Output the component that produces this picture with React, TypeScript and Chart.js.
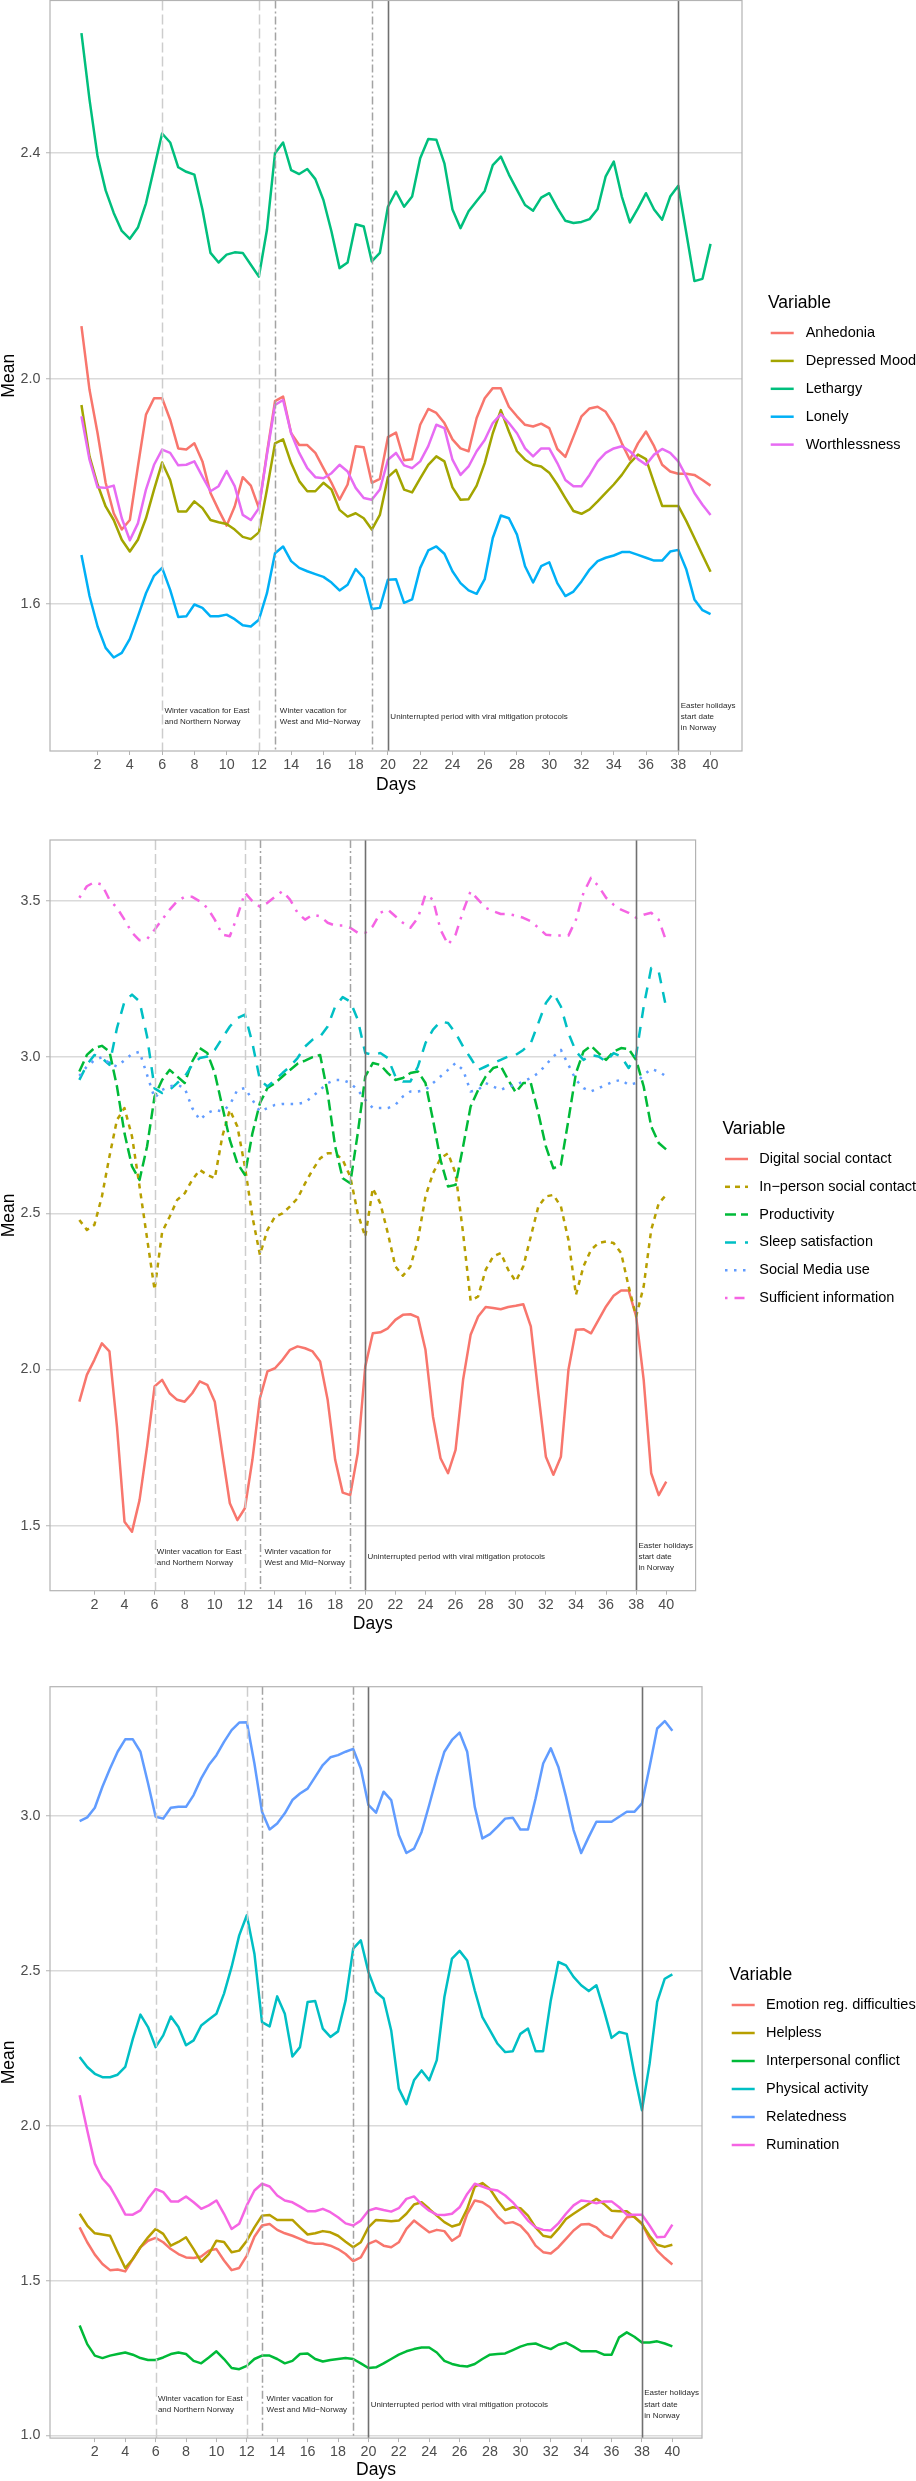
import React, { useEffect, useRef } from "react";
import { Chart, registerables } from "chart.js";

Chart.register(...registerables);

const FONT = '"Liberation Sans", Arial, Helvetica, sans-serif';

// ---------- shared x values (half-day steps) ----------
const days = [
  1, 1.5, 2, 2.5, 3, 3.5, 4, 4.5, 5, 5.5, 6, 6.5, 7, 7.5, 8, 8.5, 9, 9.5, 10, 10.5,
  11, 11.5, 12, 12.5, 13, 13.5, 14, 14.5, 15, 15.5, 16, 16.5, 17, 17.5, 18, 18.5, 19, 19.5, 20, 20.5,
  21, 21.5, 22, 22.5, 23, 23.5, 24, 24.5, 25, 25.5, 26, 26.5, 27, 27.5, 28, 28.5, 29, 29.5, 30, 30.5,
  31, 31.5, 32, 32.5, 33, 33.5, 34, 34.5, 35, 35.5, 36, 36.5, 37, 37.5, 38, 38.5, 39, 39.5, 40,
];
const xTickDays = [2, 4, 6, 8, 10, 12, 14, 16, 18, 20, 22, 24, 26, 28, 30, 32, 34, 36, 38, 40];

// ---------- panel 1 ----------
const names1 = ["Anhedonia", "Depressed Mood", "Lethargy", "Lonely", "Worthlessness"];
const yTicks1 = [1.6, 2.0, 2.4];
const anhedonia = [
  2.093, 1.98, 1.903, 1.815, 1.761, 1.732, 1.749, 1.844, 1.936, 1.965,
  1.965, 1.927, 1.876, 1.874, 1.885, 1.853, 1.797, 1.767, 1.739, 1.773,
  1.825, 1.81, 1.77, 1.868, 1.96, 1.968, 1.903, 1.882, 1.882, 1.868,
  1.841, 1.815, 1.785, 1.812, 1.88, 1.878, 1.815, 1.822, 1.896, 1.904,
  1.855, 1.857, 1.918, 1.946, 1.939, 1.921, 1.892, 1.876, 1.871,
  1.93, 1.965, 1.983, 1.983, 1.95, 1.933, 1.918, 1.915, 1.92, 1.912,
  1.875, 1.861, 1.897, 1.933, 1.947, 1.95, 1.941, 1.918, 1.885, 1.856,
  1.885, 1.906, 1.88, 1.847, 1.835, 1.831, 1.831, 1.829, 1.82, 1.81,
];
const depressedMood = [
  1.953, 1.862, 1.812, 1.773, 1.749, 1.714, 1.693, 1.714, 1.752, 1.803,
  1.851, 1.82, 1.764, 1.764, 1.782, 1.77, 1.749, 1.745, 1.742, 1.732,
  1.719, 1.715, 1.727, 1.803, 1.885, 1.892, 1.85, 1.818, 1.8, 1.8,
  1.815, 1.803, 1.767, 1.755, 1.761, 1.752, 1.732, 1.758, 1.825, 1.838,
  1.803, 1.798, 1.823, 1.847, 1.862, 1.853, 1.807, 1.785, 1.786,
  1.81, 1.85, 1.903, 1.944, 1.906, 1.871, 1.856, 1.847, 1.844, 1.833,
  1.812, 1.788, 1.765, 1.76, 1.768, 1.782, 1.797, 1.812, 1.829, 1.85,
  1.865, 1.857, 1.815, 1.774, 1.774, 1.774, 1.747, 1.717, 1.687, 1.657,
];
const lethargy = [
  2.613, 2.495, 2.394, 2.334, 2.294, 2.262, 2.248, 2.268, 2.311, 2.373,
  2.435, 2.419, 2.375, 2.367, 2.362, 2.3, 2.223, 2.206, 2.22, 2.224,
  2.223, 2.202, 2.181, 2.264, 2.4, 2.419, 2.37, 2.363, 2.372, 2.354,
  2.317, 2.261, 2.196, 2.206, 2.274, 2.27, 2.208, 2.223, 2.305, 2.332,
  2.305, 2.323, 2.391, 2.425, 2.424, 2.382, 2.3, 2.267, 2.297,
  2.315, 2.333, 2.379, 2.394, 2.362, 2.335, 2.308, 2.298, 2.321, 2.329,
  2.303, 2.28, 2.276, 2.278, 2.283, 2.301, 2.359, 2.385, 2.323, 2.277,
  2.302, 2.329, 2.3, 2.282, 2.323, 2.342, 2.258, 2.173, 2.177, 2.239,
];
const lonely = [
  1.687, 1.614, 1.56, 1.522, 1.505, 1.513, 1.538, 1.578, 1.619, 1.65,
  1.664, 1.625, 1.577, 1.578, 1.599, 1.593, 1.578, 1.578, 1.581, 1.573,
  1.562, 1.56, 1.572, 1.619, 1.69, 1.702, 1.676, 1.664, 1.658, 1.653,
  1.648, 1.638, 1.624, 1.634, 1.662, 1.646, 1.591, 1.593, 1.643, 1.644,
  1.602, 1.608, 1.664, 1.695, 1.702, 1.689, 1.658, 1.637, 1.624,
  1.618, 1.644, 1.717, 1.757, 1.752, 1.723, 1.667, 1.638, 1.667, 1.674,
  1.637, 1.614, 1.622, 1.64, 1.661, 1.676, 1.682, 1.686, 1.692, 1.692,
  1.687, 1.682, 1.677, 1.677, 1.693, 1.696, 1.661, 1.608, 1.589, 1.582,
];
const worthlessness = [
  1.933, 1.856, 1.807, 1.806, 1.81, 1.752, 1.713, 1.743, 1.803, 1.847,
  1.874, 1.868, 1.846, 1.847, 1.853, 1.826, 1.8, 1.809, 1.836, 1.809,
  1.758, 1.749, 1.77, 1.865, 1.953, 1.962, 1.903, 1.868, 1.841, 1.825,
  1.823, 1.832, 1.847, 1.835, 1.806, 1.788, 1.785, 1.803, 1.856, 1.868,
  1.846, 1.841, 1.853, 1.88, 1.918, 1.912, 1.856, 1.829, 1.844,
  1.871, 1.891, 1.921, 1.937, 1.921, 1.903, 1.876, 1.862, 1.876, 1.876,
  1.85, 1.82, 1.809, 1.809, 1.829, 1.853, 1.868, 1.876, 1.88, 1.871,
  1.857, 1.847, 1.865, 1.875, 1.868, 1.853, 1.826, 1.797, 1.776, 1.758,
];

// ---------- panel 2 ----------
const names2 = [
  "Digital social contact",
  "In\u2212person social contact",
  "Productivity",
  "Sleep satisfaction",
  "Social Media use",
  "Sufficient information",
];
const yTicks2 = [1.5, 2.0, 2.5, 3.0, 3.5];
const digitalContact = [
  1.897, 1.983, 2.031, 2.084, 2.058, 1.817, 1.513, 1.481, 1.582, 1.753,
  1.946, 1.967, 1.924, 1.903, 1.897, 1.924, 1.962, 1.951, 1.897, 1.732,
  1.572, 1.518, 1.556, 1.711, 1.908, 1.994, 2.004, 2.031, 2.063, 2.074,
  2.068, 2.058, 2.026, 1.903, 1.711, 1.606, 1.598, 1.732, 2.01, 2.116,
  2.119, 2.132, 2.159, 2.175, 2.177, 2.167, 2.063, 1.849, 1.716, 1.668,
  1.743, 1.967, 2.111, 2.17, 2.2, 2.197, 2.193, 2.2, 2.204, 2.209,
  2.138, 1.924, 1.721, 1.663, 1.721, 1.999, 2.127, 2.129, 2.116, 2.159,
  2.202, 2.236, 2.253, 2.253, 2.17, 1.967, 1.668, 1.598, 1.641,
];
const inPersonContact = [
  2.479, 2.447, 2.463, 2.554, 2.682, 2.799, 2.837, 2.746, 2.586, 2.42,
  2.255, 2.44, 2.489, 2.543, 2.564, 2.607, 2.639, 2.623, 2.612, 2.746,
  2.831, 2.778, 2.65, 2.489, 2.367, 2.447, 2.489, 2.5, 2.522, 2.548,
  2.596, 2.639, 2.676, 2.692, 2.692, 2.671, 2.618, 2.5, 2.425, 2.58,
  2.532, 2.436, 2.33, 2.3, 2.33, 2.415, 2.554, 2.628, 2.676, 2.692,
  2.628, 2.436, 2.22, 2.234, 2.319, 2.362, 2.373, 2.319, 2.282, 2.33,
  2.426, 2.522, 2.554, 2.559, 2.522, 2.415, 2.239, 2.33, 2.383, 2.405,
  2.41, 2.405, 2.373, 2.266, 2.17, 2.266, 2.447, 2.532, 2.559,
];
const productivity = [
  2.954, 3.007, 3.029, 3.036, 3.018, 2.906, 2.756, 2.65, 2.607, 2.714,
  2.874, 2.927, 2.959, 2.938, 2.917, 2.986, 3.029, 3.013, 2.949, 2.842,
  2.735, 2.66, 2.623, 2.756, 2.853, 2.901, 2.917, 2.938, 2.959, 2.979,
  2.989, 3.0, 3.007, 2.885, 2.714, 2.612, 2.596, 2.756, 2.938, 2.981,
  2.975, 2.949, 2.927, 2.933, 2.949, 2.954, 2.917, 2.799, 2.671, 2.586,
  2.591, 2.714, 2.842, 2.895, 2.938, 2.965, 2.972, 2.927, 2.887, 2.917,
  2.917, 2.821, 2.714, 2.644, 2.655, 2.799, 2.949, 3.018, 3.036, 3.013,
  2.991, 3.018, 3.029, 3.026, 2.991, 2.906, 2.778, 2.725, 2.704,
];
const sleepSatisfaction = [
  2.927, 2.975, 3.007, 2.997, 2.975, 3.093, 3.178, 3.2, 3.178, 3.066,
  2.9, 2.885, 2.895, 2.917, 2.938, 2.975, 2.997, 3.002, 3.023, 3.061,
  3.098, 3.125, 3.136, 3.045, 2.927, 2.906, 2.927, 2.949, 2.97, 2.997,
  3.034, 3.056, 3.066, 3.098, 3.162, 3.192, 3.178, 3.12, 3.013, 3.007,
  3.013, 2.997, 2.938, 2.922, 2.922, 2.97, 3.045, 3.088, 3.114, 3.109,
  3.077, 3.034, 2.997, 2.959, 2.97, 2.981, 2.991, 3.002, 3.007, 3.023,
  3.045, 3.109, 3.173, 3.205, 3.162, 3.077, 3.018, 2.991, 3.007, 3.002,
  2.986, 3.013, 3.002, 2.965, 3.007, 3.162, 3.285, 3.274, 3.157,
];
const socialMediaUse = [
  2.94, 2.97, 2.99, 3.0, 2.98, 2.97, 2.99, 3.01, 3.017, 2.943,
  2.869, 2.895, 2.906, 2.911, 2.901, 2.837, 2.799, 2.821, 2.831, 2.826,
  2.847, 2.895, 2.901, 2.863, 2.826, 2.837, 2.847, 2.85, 2.85, 2.85,
  2.855, 2.874, 2.895, 2.917, 2.927, 2.927, 2.917, 2.895, 2.863, 2.837,
  2.837, 2.837, 2.847, 2.874, 2.89, 2.89, 2.895, 2.917, 2.938, 2.959,
  2.981, 2.959, 2.89, 2.895, 2.917, 2.906, 2.895, 2.906, 2.911, 2.922,
  2.933, 2.949, 2.975, 3.002, 3.023, 2.975, 2.927, 2.901, 2.89, 2.901,
  2.911, 2.922, 2.927, 2.911, 2.917, 2.943, 2.962, 2.954, 2.938,
];
const sufficientInfo = [
  3.51, 3.547, 3.56, 3.552, 3.504, 3.478, 3.44, 3.398, 3.374, 3.378,
  3.408, 3.44, 3.472, 3.499, 3.513, 3.513, 3.499, 3.478, 3.44, 3.392,
  3.387, 3.451, 3.526, 3.499, 3.481, 3.494, 3.513, 3.531, 3.504, 3.462,
  3.44, 3.456, 3.451, 3.43, 3.421, 3.421, 3.414, 3.398, 3.398, 3.419,
  3.462, 3.472, 3.451, 3.43, 3.414, 3.446, 3.52, 3.504, 3.408, 3.36,
  3.392, 3.467, 3.531, 3.504, 3.478, 3.467, 3.458, 3.458, 3.453, 3.446,
  3.435, 3.414, 3.392, 3.389, 3.389, 3.389, 3.44, 3.526, 3.574, 3.547,
  3.51, 3.488, 3.472, 3.462, 3.446, 3.456, 3.462, 3.44, 3.371,
];

// ---------- panel 3 ----------
const names3 = [
  "Emotion reg. difficulties",
  "Helpless",
  "Interpersonal conflict",
  "Physical activity",
  "Relatedness",
  "Rumination",
];
const yTicks3 = [1.0, 1.5, 2.0, 2.5, 3.0];
const emotionReg = [
  1.672, 1.624, 1.584, 1.554, 1.534, 1.536, 1.53, 1.57, 1.608, 1.629,
  1.638, 1.624, 1.602, 1.586, 1.575, 1.573, 1.578, 1.597, 1.602, 1.565,
  1.534, 1.541, 1.581, 1.642, 1.678, 1.683, 1.664, 1.653, 1.645, 1.635,
  1.624, 1.619, 1.619, 1.613, 1.602, 1.586, 1.563, 1.575, 1.619, 1.629,
  1.613, 1.608, 1.624, 1.667, 1.694, 1.675, 1.656, 1.664, 1.66, 1.629,
  1.645, 1.716, 1.759, 1.753, 1.737, 1.707, 1.685, 1.689, 1.678, 1.651,
  1.613, 1.592, 1.588, 1.608, 1.635, 1.662, 1.681, 1.683, 1.672, 1.649,
  1.638, 1.672, 1.705, 1.707, 1.685, 1.635, 1.597, 1.573, 1.552,
];
const helpless = [
  1.716, 1.678, 1.653, 1.649, 1.645, 1.592, 1.541, 1.57, 1.608, 1.64,
  1.667, 1.651, 1.613, 1.625, 1.64, 1.602, 1.561, 1.586, 1.629, 1.625,
  1.592, 1.597, 1.629, 1.672, 1.71, 1.712, 1.696, 1.696, 1.696, 1.672,
  1.649, 1.653, 1.66, 1.656, 1.645, 1.626, 1.608, 1.624, 1.672, 1.696,
  1.694, 1.692, 1.694, 1.716, 1.746, 1.753, 1.732, 1.71, 1.689, 1.675,
  1.682, 1.732, 1.804, 1.815, 1.796, 1.759, 1.728, 1.737, 1.734, 1.71,
  1.672, 1.645, 1.64, 1.667, 1.699, 1.716, 1.732, 1.748, 1.764, 1.748,
  1.726, 1.724, 1.724, 1.705, 1.683, 1.645, 1.616, 1.609, 1.616,
];
const interpersonalConflict = [
  1.355, 1.295, 1.258, 1.25, 1.258, 1.263, 1.268, 1.261, 1.25, 1.244,
  1.244, 1.252, 1.263, 1.268, 1.263, 1.241, 1.233, 1.252, 1.272, 1.247,
  1.218, 1.214, 1.225, 1.247, 1.258, 1.258, 1.247, 1.233, 1.241, 1.263,
  1.265, 1.247, 1.239, 1.244, 1.247, 1.25, 1.247, 1.233, 1.218, 1.22,
  1.233, 1.247, 1.261, 1.272, 1.279, 1.284, 1.284, 1.268, 1.241, 1.231,
  1.225, 1.223, 1.231, 1.247, 1.261, 1.263, 1.265, 1.276, 1.287, 1.295,
  1.297, 1.287, 1.279, 1.293, 1.3, 1.287, 1.272, 1.272, 1.272, 1.261,
  1.261, 1.317, 1.333, 1.319, 1.3, 1.3, 1.304, 1.297, 1.288,
];
const physicalActivity = [
  2.222, 2.19, 2.168, 2.157, 2.157, 2.165, 2.19, 2.281, 2.359, 2.319,
  2.254, 2.292, 2.353, 2.319, 2.26, 2.276, 2.324, 2.343, 2.362, 2.427,
  2.513, 2.615, 2.68, 2.556, 2.335, 2.321, 2.418, 2.362, 2.224, 2.254,
  2.4, 2.403, 2.314, 2.287, 2.305, 2.405, 2.572, 2.599, 2.497, 2.432,
  2.411, 2.308, 2.12, 2.07, 2.147, 2.179, 2.147, 2.212, 2.416, 2.54,
  2.565, 2.534, 2.437, 2.351, 2.308, 2.265, 2.238, 2.241, 2.297, 2.314,
  2.241, 2.241, 2.405, 2.529, 2.518, 2.481, 2.454, 2.435, 2.454, 2.373,
  2.284, 2.303, 2.297, 2.168, 2.05, 2.2, 2.4, 2.475, 2.489,
];
const relatedness = [
  2.984, 2.996, 3.027, 3.095, 3.154, 3.208, 3.248, 3.248, 3.208, 3.106,
  2.998, 2.992, 3.027, 3.03, 3.03, 3.068, 3.122, 3.165, 3.197, 3.24,
  3.278, 3.302, 3.303, 3.17, 3.014, 2.957, 2.976, 3.009, 3.052, 3.073,
  3.089, 3.127, 3.165, 3.19, 3.197, 3.208, 3.217, 3.154, 3.036, 3.011,
  3.079, 3.052, 2.939, 2.881, 2.895, 2.949, 3.036, 3.127, 3.208, 3.246,
  3.27, 3.208, 3.03, 2.928, 2.942, 2.966, 2.992, 2.995, 2.957, 2.957,
  3.057, 3.17, 3.219, 3.159, 3.063, 2.955, 2.881, 2.933, 2.982, 2.982,
  2.982, 2.998, 3.014, 3.014, 3.041, 3.159, 3.283, 3.307, 3.276,
];
const rumination = [
  2.099, 1.986, 1.878, 1.83, 1.803, 1.76, 1.714, 1.713, 1.727, 1.765,
  1.796, 1.786, 1.756, 1.756, 1.772, 1.753, 1.732, 1.743, 1.759, 1.716,
  1.667, 1.684, 1.743, 1.791, 1.813, 1.804, 1.775, 1.759, 1.753, 1.739,
  1.724, 1.724, 1.732, 1.721, 1.705, 1.685, 1.678, 1.694, 1.726, 1.734,
  1.728, 1.723, 1.734, 1.764, 1.772, 1.746, 1.726, 1.713, 1.712, 1.716,
  1.737, 1.78, 1.813, 1.804, 1.795, 1.791, 1.775, 1.753, 1.724, 1.694,
  1.672, 1.664, 1.662, 1.685, 1.716, 1.743, 1.759, 1.756, 1.75, 1.756,
  1.756, 1.737, 1.713, 1.713, 1.713, 1.678, 1.64, 1.642, 1.681,
];

// ---------- event markers and notes ----------
const eventDays = [6, 12, 13, 19, 20, 38];
const noteDays = [6.15, 13.3, 20.15, 38.15];
const noteTexts = [
  ["Winter vacation for East", "and Northern Norway"],
  ["Winter vacation for", "West and Mid\u2212Norway"],
  ["Uninterrupted period with viral mitigation protocols"],
  ["Easter holidays", "start date", "in Norway"],
];

const pal5 = ["#F8766D", "#A3A500", "#00BF7D", "#00B0F6", "#E76BF3"];
const pal6 = ["#F8766D", "#B79F00", "#00BA38", "#00BFC4", "#619CFF", "#F564E3"];

type Spec = {
  top: number;
  height: number;
  padTop: number;
  padRight: number;
  padBottom: number;
  xAxisH: number;
  yMin: number;
  yMax: number;
  yTicks: number[];
  noteY: number;
  names: string[];
  series: number[][];
  colors: string[];
  dashes: number[][];
  legend: { titleX: number; titleY: number; keyX: number; textX: number; y0: number; dy: number };
};

const specs: Spec[] = [
  {
    top: 0, height: 800, padTop: 0.5, padRight: 174, padBottom: 4.5, xAxisH: 44.5,
    yMin: 1.339, yMax: 2.671, yTicks: yTicks1, noteY: 1.4,
    names: names1,
    series: [anhedonia, depressedMood, lethargy, lonely, worthlessness],
    colors: pal5,
    dashes: [[], [], [], [], []],
    legend: { titleX: 768, titleY: 302.7, keyX: 770.7, textX: 805.7, y0: 333, dy: 27.9 },
  },
  {
    top: 820, height: 820, padTop: 20, padRight: 220.4, padBottom: 5.2, xAxisH: 44.1,
    yMin: 1.292, yMax: 3.695, yTicks: yTicks2, noteY: 1.4,
    names: names2,
    series: [digitalContact, inPersonContact, productivity, sleepSatisfaction, socialMediaUse, sufficientInfo],
    colors: pal6,
    dashes: [[], [5, 5], [11, 5], [11, 9], [2.5, 6.5], [2.5, 7, 10, 7]],
    legend: { titleX: 722.5, titleY: 1128.7, keyX: 725, textX: 759.3, y0: 1159, dy: 27.8 },
  },
  {
    top: 1656, height: 825, padTop: 30.7, padRight: 214, padBottom: 0, xAxisH: 42.9,
    yMin: 0.9916, yMax: 3.418, yTicks: yTicks3, noteY: 1.1,
    names: names3,
    series: [emotionReg, helpless, interpersonalConflict, physicalActivity, relatedness, rumination],
    colors: pal6,
    dashes: [[], [], [], [], [], []],
    legend: { titleX: 729.3, titleY: 1974.7, keyX: 731.7, textX: 766, y0: 2005, dy: 28 },
  },
];

function eventStyle(day: number) {
  if (day === 6 || day === 12) return { color: "#cdcdcd", width: 1.5, dash: [10, 4] };
  if (day === 13 || day === 19) return { color: "#a3a3a3", width: 1.5, dash: [8, 3, 2, 3] };
  return { color: "#707070", width: 1.6, dash: [] as number[] };
}

function extrasPlugin(spec: Spec) {
  return {
    id: "panelExtras",
    afterDatasetsDraw(chart: any) {
      const { ctx, chartArea: a, scales } = chart;
      const xs = scales.x;
      const ys = scales.y;
      ctx.save();
      eventDays.forEach((d) => {
        const st = eventStyle(d);
        const px = Math.round(xs.getPixelForValue(d)) + 0.5;
        ctx.beginPath();
        ctx.strokeStyle = st.color;
        ctx.lineWidth = st.width;
        ctx.setLineDash(st.dash);
        ctx.moveTo(px, a.top);
        ctx.lineTo(px, a.bottom);
        ctx.stroke();
      });
      ctx.setLineDash([]);
      ctx.font = `8px ${FONT}`;
      ctx.fillStyle = "#2a2a2a";
      ctx.textAlign = "left";
      ctx.textBaseline = "middle";
      noteTexts.forEach((lines, k) => {
        const px = xs.getPixelForValue(noteDays[k]);
        const cy = ys.getPixelForValue(spec.noteY);
        lines.forEach((t, j) => {
          ctx.fillText(t, px, cy + (j - (lines.length - 1) / 2) * 11.3);
        });
      });
      ctx.strokeStyle = "#b3b3b3";
      ctx.lineWidth = 1.2;
      ctx.strokeRect(a.left, a.top, a.right - a.left, a.bottom - a.top);
      ctx.restore();
    },
    afterDraw(chart: any) {
      const { ctx } = chart;
      const L = spec.legend;
      const off = spec.top;
      ctx.save();
      ctx.fillStyle = "#000";
      ctx.textAlign = "left";
      ctx.textBaseline = "middle";
      ctx.font = `17.5px ${FONT}`;
      ctx.fillText("Variable", L.titleX, L.titleY - off);
      spec.names.forEach((name, i) => {
        const y = L.y0 + i * L.dy - off;
        ctx.beginPath();
        ctx.strokeStyle = spec.colors[i];
        ctx.lineWidth = 2.5;
        ctx.setLineDash(spec.dashes[i]);
        ctx.moveTo(L.keyX, y);
        ctx.lineTo(L.keyX + 23, y);
        ctx.stroke();
        ctx.setLineDash([]);
        ctx.font = `14.5px ${FONT}`;
        ctx.fillText(name, L.textX, y);
      });
      ctx.restore();
    },
  };
}

function Panel({ spec }: { spec: Spec }) {
  const ref = useRef<HTMLCanvasElement | null>(null);
  useEffect(() => {
    const canvas = ref.current;
    if (!canvas) return;
    const n = spec.series.length;
    const chart = new Chart(canvas, {
      type: "line",
      data: {
        datasets: spec.series.map((vals, i) => ({
          label: spec.names[i],
          data: days.map((d, j) => ({ x: d, y: vals[j] })),
          borderColor: spec.colors[i],
          backgroundColor: spec.colors[i],
          borderWidth: 2.5,
          borderDash: spec.dashes[i],
          borderJoinStyle: "round",
          borderCapStyle: "butt",
          pointRadius: 0,
          tension: 0,
          fill: false,
          order: n - i,
        })),
      },
      options: {
        responsive: false,
        animation: false,
        events: [],
        layout: { padding: { left: 0, top: spec.padTop, right: spec.padRight, bottom: spec.padBottom } },
        plugins: { legend: { display: false }, tooltip: { enabled: false }, title: { display: false } },
        scales: {
          x: {
            type: "linear",
            min: -0.95,
            max: 41.95,
            afterBuildTicks: (s: any) => {
              s.ticks = xTickDays.map((v) => ({ value: v }));
            },
            afterFit: (s: any) => {
              s.height = spec.xAxisH;
              s.paddingLeft = 0;
              s.paddingRight = 0;
            },
            ticks: {
              autoSkip: false,
              maxRotation: 0,
              minRotation: 0,
              padding: 1.3,
              color: "#4d4d4d",
              font: { family: FONT, size: 14.3 },
              callback: (v: any) => String(v),
            },
            grid: { drawOnChartArea: false, drawTicks: true, tickLength: 4, tickColor: "#b3b3b3", tickWidth: 1 },
            border: { display: false },
            title: { display: true, text: "Days", color: "#000", font: { family: FONT, size: 17.5, lineHeight: 1.2 }, padding: 0 },
          },
          y: {
            type: "linear",
            min: spec.yMin,
            max: spec.yMax,
            afterBuildTicks: (s: any) => {
              s.ticks = spec.yTicks.map((v) => ({ value: v }));
            },
            afterFit: (s: any) => {
              s.width = 50;
              s.paddingTop = 0;
              s.paddingBottom = 0;
            },
            ticks: {
              padding: 5.6,
              color: "#4d4d4d",
              font: { family: FONT, size: 14.3 },
              callback: (v: any) => Number(v).toFixed(1),
            },
            grid: { color: "#dadada", lineWidth: 1.5, drawTicks: true, tickLength: 4, tickColor: "#b3b3b3", tickWidth: 1 },
            border: { display: false },
            title: { display: true, text: "Mean", color: "#000", font: { family: FONT, size: 17.5, lineHeight: 1.0 }, padding: 0 },
          },
        },
      } as any,
      plugins: [extrasPlugin(spec)],
    });
    return () => chart.destroy();
  }, [spec]);
  return (
    <canvas
      ref={ref}
      width={916}
      height={spec.height}
      style={{ position: "absolute", left: 0, top: spec.top, width: 916, height: spec.height }}
    />
  );
}

export default function App() {
  return (
    <div
      style={{
        position: "absolute",
        left: 0,
        top: 0,
        width: 916,
        height: 2481,
        background: "#ffffff",
        overflow: "hidden",
      }}
    >
      {specs.map((s, i) => (
        <Panel key={i} spec={s} />
      ))}
    </div>
  );
}
